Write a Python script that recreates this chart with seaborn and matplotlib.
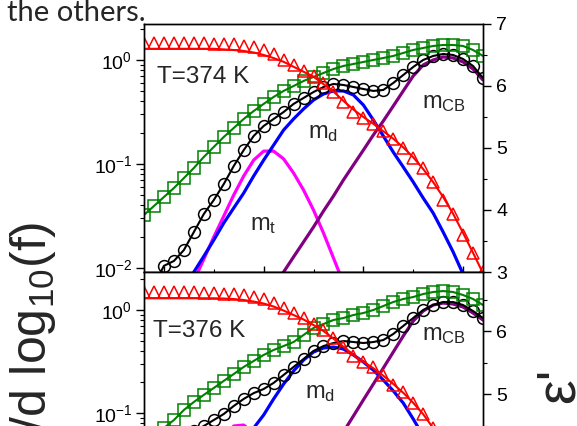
import matplotlib
matplotlib.use("Agg")
import matplotlib.pyplot as plt
import matplotlib.ticker as mticker
import seaborn as sns

# log10 of frequency for every measured point
logf = [-1.4, -1.2, -1.0, -0.8, -0.6, -0.4, -0.2, 0.0, 0.2, 0.4, 0.6, 0.8,
        1.0, 1.2, 1.4, 1.6, 1.8, 2.0, 2.2, 2.4, 2.6, 2.8, 3.0, 3.2, 3.4,
        3.6, 3.8, 4.0, 4.2, 4.4, 4.6, 4.8, 5.0, 5.2, 5.4]

# ---- T = 374 K ----
green_374 = [0.0324, 0.0395, 0.0482, 0.0588, 0.0733, 0.0916, 0.117, 0.146, 0.182,
             0.222, 0.271, 0.323, 0.378, 0.441, 0.504, 0.562, 0.628, 0.687, 0.750,
             0.819, 0.876, 0.915, 0.957, 1.0, 1.045, 1.093, 1.168, 1.248, 1.304,
             1.363, 1.394, 1.394, 1.363, 1.248, 1.093]
black_374 = [0.0049, 0.0069, 0.0105, 0.0117, 0.0149, 0.0222, 0.0331, 0.0451, 0.0642,
             0.0957, 0.136, 0.186, 0.232, 0.271, 0.316, 0.378, 0.431, 0.492, 0.550,
             0.588, 0.575, 0.550, 0.526, 0.504, 0.515, 0.601, 0.717, 0.856, 1.0,
             1.093, 1.142, 1.117, 1.022, 0.876, 0.671]
red_374 = [6.70, 6.70, 6.69, 6.69, 6.69, 6.69, 6.69, 6.68, 6.68, 6.67, 6.65, 6.63,
           6.58, 6.52, 6.42, 6.34, 6.24, 6.16, 6.05, 5.90, 5.74, 5.58, 5.48, 5.39,
           5.27, 5.15, 5.00, 4.84, 4.68, 4.45, 4.16, 3.94, 3.60, 3.31, 3.00]
red_fit_374 = [6.60, 6.60, 6.60, 6.60, 6.60, 6.60, 6.60, 6.60, 6.59, 6.58, 6.565,
               6.54, 6.50, 6.45, 6.39, 6.31, 6.23, 6.15, 6.03, 5.91, 5.76, 5.62,
               5.50, 5.39, 5.27, 5.15, 5.01, 4.85, 4.66, 4.45, 4.21, 3.94, 3.63,
               3.31, 2.98]
# fitted components: (index of first point in logf, values)
mt_374 = (5, [0.0075, 0.0122, 0.0199, 0.0316, 0.0504, 0.0767, 0.109, 0.133, 0.133,
              0.112, 0.0819, 0.0562, 0.0361, 0.0217, 0.0125, 0.00718])
md_374 = (4, [0.00643, 0.00916, 0.0130, 0.0186, 0.0271, 0.0378, 0.0526, 0.0767,
              0.109, 0.152, 0.212, 0.271, 0.338, 0.412, 0.471, 0.504, 0.504, 0.461,
              0.369, 0.265, 0.186, 0.130, 0.0936, 0.0671, 0.0471, 0.0338, 0.0222,
              0.0143, 0.00875])
mcb_374 = (13, [0.00656, 0.00916, 0.0128, 0.0178, 0.0248, 0.0353, 0.0492, 0.0702,
                0.0978, 0.136, 0.190, 0.259, 0.361, 0.504, 0.702, 0.895, 1.0, 1.069,
                1.045, 0.957, 0.819, 0.642])

# ---- T = 376 K ----
green_376 = [0.0489, 0.0572, 0.0715, 0.0855, 0.107, 0.128, 0.150, 0.175, 0.205,
             0.239, 0.280, 0.320, 0.366, 0.409, 0.447, 0.489, 0.572, 0.669, 0.731,
             0.800, 0.836, 0.894, 0.935, 1.0, 1.093, 1.196, 1.279, 1.337, 1.430,
             1.495, 1.528, 1.495, 1.398, 1.279, 1.118]
black_376 = [0.0280, 0.0342, 0.0418, 0.0500, 0.0585, 0.0668, 0.0748, 0.0855, 0.0978,
             0.117, 0.137, 0.156, 0.171, 0.196, 0.234, 0.280, 0.334, 0.400, 0.447,
             0.478, 0.500, 0.489, 0.478, 0.489, 0.511, 0.585, 0.700, 0.836, 1.0,
             1.118, 1.196, 1.196, 1.118, 0.978, 0.836]
red_376 = [6.62, 6.62, 6.62, 6.62, 6.62, 6.62, 6.61, 6.60, 6.595, 6.587, 6.571,
           6.540, 6.508, 6.444, 6.365, 6.286, 6.206, 6.111, 6.016, 5.889, 5.746,
           5.603, 5.508, 5.429, 5.302, 5.143, 5.032, 4.857, 4.683, 4.460, 4.190,
           3.921, 3.603, 3.317, 3.032]
red_fit_376 = [6.52, 6.52, 6.52, 6.52, 6.52, 6.52, 6.52, 6.52, 6.516, 6.508, 6.492,
               6.468, 6.437, 6.389, 6.325, 6.254, 6.183, 6.095, 6.0, 5.88, 5.75,
               5.62, 5.51, 5.41, 5.29, 5.16, 5.02, 4.86, 4.68, 4.46, 4.20, 3.92,
               3.61, 3.32, 3.03]
mt_376 = (7, [0.0437, 0.0598, 0.0748, 0.0764, 0.0640, 0.0478, 0.0334])
md_376 = (9, [0.0350, 0.0512, 0.0715, 0.0957, 0.137, 0.191, 0.256, 0.327, 0.391,
              0.428, 0.437, 0.418, 0.366, 0.313, 0.261, 0.209, 0.164, 0.125, 0.0875,
              0.0598, 0.0409])
mcb_376 = (19, [0.0457, 0.0654, 0.0935, 0.134, 0.191, 0.273, 0.391, 0.559, 0.782,
                0.978, 1.118, 1.169, 1.143, 1.069, 0.935, 0.800])

sns.set_theme(style="ticks")
plt.rcParams["font.family"] = ["Liberation Sans", "DejaVu Sans"]
plt.rcParams["mathtext.fontset"] = "custom"
plt.rcParams["mathtext.rm"] = "Liberation Sans"
plt.rcParams["mathtext.it"] = "Liberation Sans:italic"
plt.rcParams["mathtext.default"] = "regular"
plt.rcParams["axes.edgecolor"] = "black"
plt.rcParams["axes.linewidth"] = 1.0
plt.rcParams["xtick.color"] = "black"
plt.rcParams["ytick.color"] = "black"

fig = plt.figure(figsize=(5.77, 4.26), dpi=100, facecolor="white")


def comp(ax, c, color):
    i0, vals = c
    sns.lineplot(x=logf[i0:i0 + len(vals)], y=vals, ax=ax, color=color, lw=2.3,
                 errorbar=None)


def panel(rect, label, green, black, red, red_fit, mt, md, mcb, ylim, ylim2, texts):
    ax = fig.add_axes(rect)
    ax.set_yscale("log")
    comp(ax, mt, "#ff00ff")
    comp(ax, md, "#0000ff")
    comp(ax, mcb, "#800080")
    sns.lineplot(x=logf, y=black, ax=ax, color="black", lw=1.5, marker="o",
                 markersize=8.5, markerfacecolor="none", markeredgecolor="black",
                 markeredgewidth=1.1, errorbar=None)
    sns.lineplot(x=logf, y=green, ax=ax, color="#008000", lw=1.5, marker="s",
                 markersize=8.3, markerfacecolor="none", markeredgecolor="#008000",
                 markeredgewidth=1.1, errorbar=None)
    ax.set_xlim(-1.4, 5.4)
    ax.set_ylim(*ylim)
    ax.yaxis.set_major_locator(mticker.LogLocator(base=10, numticks=10))
    ax.yaxis.set_minor_locator(mticker.LogLocator(base=10, subs=range(2, 10), numticks=10))
    ax.yaxis.set_minor_formatter(mticker.NullFormatter())
    ax.xaxis.set_major_locator(mticker.FixedLocator([-1, 1, 3, 5]))
    ax.xaxis.set_minor_locator(mticker.FixedLocator([0, 2, 4]))
    ax.tick_params(axis="y", which="major", direction="out", length=5.5, width=1,
                   labelsize=14, pad=3)
    ax.tick_params(axis="y", which="minor", direction="out", length=3, width=0.8)
    ax.tick_params(axis="x", which="major", direction="in", length=4.5, width=1,
                   labelbottom=False, top=False)
    ax.tick_params(axis="x", which="minor", direction="in", length=2.5, width=0.8,
                   top=False)
    ax.set_xlabel("")
    ax.set_ylabel("")

    ax2 = ax.twinx()
    sns.lineplot(x=logf, y=red_fit, ax=ax2, color="red", lw=1.5, errorbar=None)
    sns.lineplot(x=logf, y=red, ax=ax2, color="red", linestyle="", marker="^",
                 markersize=9, markerfacecolor="none", markeredgecolor="red",
                 markeredgewidth=1.1, errorbar=None)
    ax2.set_ylim(*ylim2)
    ax2.yaxis.set_major_locator(mticker.MultipleLocator(1))
    ax2.yaxis.set_minor_locator(mticker.MultipleLocator(0.5))
    ax2.tick_params(axis="y", which="major", direction="out", length=5.5, width=1,
                    labelsize=14, pad=4)
    ax2.tick_params(axis="y", which="minor", direction="out", length=3, width=0.8)
    ax2.set_ylabel("")
    ax2.grid(False)

    ax.text(*label[1], label[0], transform=ax.transAxes, fontsize=17.5,
            ha="left", va="baseline")
    for s, (tx, ty) in texts:
        ax.text(tx, ty, s, transform=ax.transAxes, fontsize=17, ha="left",
                va="baseline")
    return ax, ax2


panel([0.2496, 0.3615, 0.5875, 0.5822], ("T=374 K", (0.038, 0.762)),
      green_374, black_374, red_374, red_fit_374, mt_374, md_374, mcb_374,
      (0.00916, 2.218), (3, 7),
      [("m$_{d}$", (0.484, 0.540)), ("m$_{CB}$", (0.820, 0.661)),
       ("m$_{t}$", (0.313, 0.169))])
panel([0.2496, -0.2207, 0.5875, 0.5822], ("T=376 K", (0.027, 0.738)),
      green_376, black_376, red_376, red_fit_376, mt_376, md_376, mcb_376,
      (0.00914, 2.339), (3.0, 6.937),
      [("m$_{d}$", (0.475, 0.492)), ("m$_{CB}$", (0.820, 0.726))])

fig.text(0.012, 0.951, "the others.", fontsize=21, family="Lato",
         ha="left", va="baseline")
fig.text(0.058, 0.479, "ε''/d log$_{10}$(f)", rotation=90, fontsize=36,
         ha="center", va="top")
fig.text(0.924, 0.096, "ε'", rotation=90, fontsize=40, ha="left", va="center")

fig.savefig("out.png", dpi=100)
